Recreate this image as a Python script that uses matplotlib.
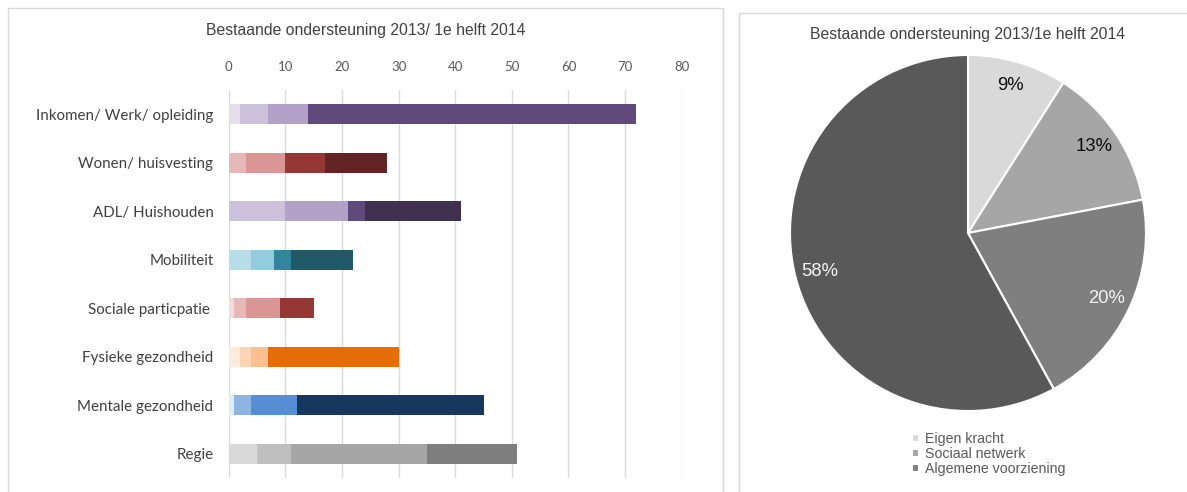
import numpy as np
import matplotlib
matplotlib.use("Agg")
import matplotlib.pyplot as plt
from matplotlib.patches import Rectangle

plt.rcParams['font.family'] = ['Liberation Sans', 'DejaVu Sans']

# stacked bar data (segments per category, left to right)
categories = ['Inkomen/ Werk/ opleiding', 'Wonen/ huisvesting', 'ADL/ Huishouden',
              'Mobiliteit', 'Sociale particpatie ', 'Fysieke gezondheid',
              'Mentale gezondheid', 'Regie']
seg1 = [2, 3, 10, 4, 1, 2, 1, 5]
seg2 = [5, 7, 11, 4, 2, 2, 3, 6]
seg3 = [7, 7, 3, 3, 6, 3, 8, 24]
seg4 = [58, 11, 17, 11, 6, 23, 33, 16]
seg_colors = [
    ['#E5DFEC', '#CCC1DA', '#B3A2C7', '#604A7B'],
    ['#E6B9B8', '#D99694', '#953735', '#632523'],
    ['#CCC1DA', '#B3A2C7', '#604A7B', '#403151'],
    ['#B7DEE8', '#93CDDD', '#31859C', '#215968'],
    ['#F2DCDB', '#E6B9B8', '#D99694', '#953735'],
    ['#FDEADA', '#FCD5B5', '#FAC090', '#E46C0A'],
    ['#DBEEF4', '#8EB4E3', '#558ED5', '#17375E'],
    ['#D9D9D9', '#BFBFBF', '#A6A6A6', '#7F7F7F'],
]

# pie data
pie_labels = ['Eigen kracht', 'Sociaal netwerk', 'Algemene voorziening', 'Overig']
pie_vals = [9, 13, 20, 58]
pie_colors = ['#D9D9D9', '#A6A6A6', '#7F7F7F', '#595959']

fig = plt.figure(figsize=[11.87, 4.92], dpi=100)
W, H = 1187, 492

# panel frames
fig.patches.append(Rectangle((8 / W, -0.1), (723 - 8) / W, 1.1 - 8 / H,
                             transform=fig.transFigure, fill=False,
                             edgecolor='#D9D9D9', linewidth=1))
fig.patches.append(Rectangle((739 / W, -0.1), 0.5, 1.1 - 13 / H,
                             transform=fig.transFigure, fill=False,
                             edgecolor='#D9D9D9', linewidth=1))

# ---- stacked bars ----
ax = fig.add_axes([228.7 / W, 1 - 478 / H, 453 / W, 388 / H])
y = np.arange(len(categories))
left = np.zeros(len(categories))
for k, seg in enumerate([seg1, seg2, seg3, seg4]):
    cols = [seg_colors[i][k] for i in range(len(categories))]
    ax.barh(y, seg, left=left, height=0.41, color=cols, linewidth=0)
    left += np.array(seg)

ax.set_xlim(0, 80)
ax.set_ylim(len(categories) - 0.5, -0.5)
ax.set_xticks(range(0, 81, 10))
ax.xaxis.tick_top()
ax.tick_params(axis='x', length=0, pad=12, labelsize=9.5, labelcolor='#595959')
ax.tick_params(axis='y', length=0, pad=11, labelsize=10.9, labelcolor='#404040')
ax.set_yticks(y)
ax.set_yticklabels(categories)
for lab in ax.get_xticklabels() + ax.get_yticklabels():
    lab.set_family(['Lato', 'DejaVu Sans'])
ax.grid(axis='x', color='#D9D9D9', linewidth=1)
ax.set_axisbelow(True)
for s in ax.spines.values():
    s.set_visible(False)
fig.text(366 / W, 1 - 30 / H, 'Bestaande ondersteuning 2013/ 1e helft 2014',
         ha='center', va='center', fontsize=11.3, color='#404040')

# ---- pie ----
pax = fig.add_axes([790 / W, 1 - 411 / H, 356 / W, 356 / H])
wedges, _ = pax.pie(pie_vals, colors=pie_colors, startangle=90, counterclock=False,
                    radius=1, wedgeprops=dict(edgecolor='white', linewidth=1.5))
label_colors = ['#0D0D0D', '#0D0D0D', '#F2F2F2', '#F2F2F2']
acc = 0
for v, lc in zip(pie_vals, label_colors):
    mid = 90 - (acc + v / 2) / sum(pie_vals) * 360
    acc += v
    r = 0.86
    pax.text(r * np.cos(np.radians(mid)), r * np.sin(np.radians(mid)), f'{v}%',
             ha='center', va='center', fontsize=13.3, color=lc)
pax.set_xlim(-1, 1)
pax.set_ylim(-1, 1)
pax.set_aspect('equal')
fig.text(968 / W, 1 - 34 / H, 'Bestaande ondersteuning 2013/1e helft 2014',
         ha='center', va='center', fontsize=11.3, color='#404040')

leg = fig.legend(wedges[:3], pie_labels[:3], loc='upper left',
                 bbox_to_anchor=(905 / W, 1 - 425 / H), frameon=False,
                 fontsize=10.2, labelcolor='#595959', handlelength=0.5,
                 handleheight=0.5, handletextpad=0.4, labelspacing=0.08,
                 borderpad=0)

fig.savefig('out.png', dpi=100)
